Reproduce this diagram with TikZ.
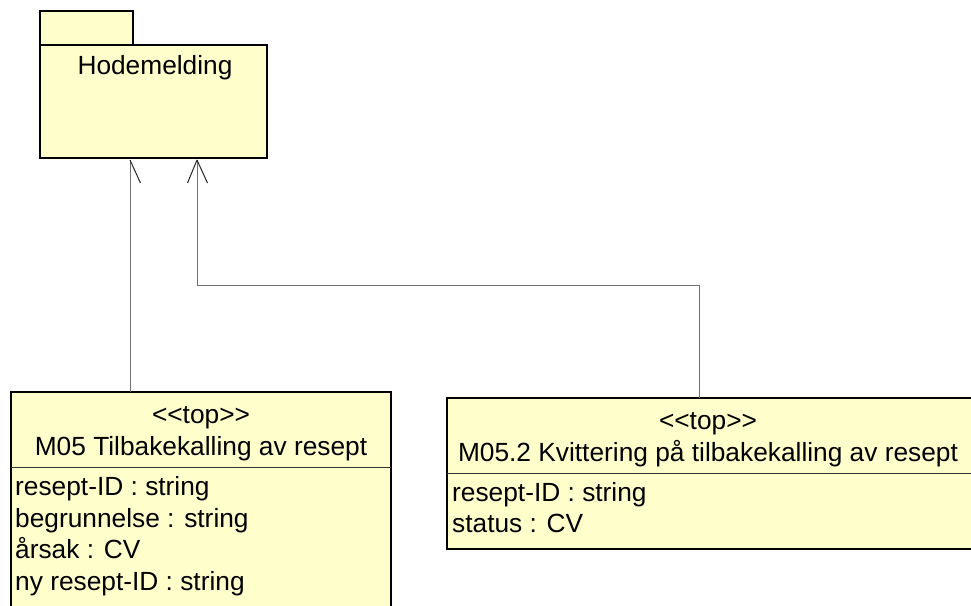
\documentclass[tikz,border=0pt]{standalone}
\usepackage{fontspec}
\setmainfont{Liberation Sans}[Ligatures=NoCommon]
\definecolor{umlfill}{HTML}{FFFFCC}
\definecolor{conn}{HTML}{707070}
\newcommand{\stereo}[1]{{<}{<}#1{>}{>}}
\begin{document}
\begin{tikzpicture}[x=1pt,y=-1pt,
  boxshape/.style={draw=black,line width=1.3pt,fill=umlfill,rectangle,inner sep=0pt,outer sep=0pt},
  sepline/.style={draw=black!80,line width=1pt},
  txt/.style={inner sep=0pt,anchor=base,font=\fontsize{26.3}{30}\selectfont},
  attr/.style={txt,anchor=base west},
  connline/.style={draw=conn,line width=1pt},
  tipline/.style={draw=black!85,line width=1pt}]
\useasboundingbox (0,0) rectangle (971,605);
\clip (0,0) rectangle (971,605);
% package
\node[boxshape,minimum width=93pt,minimum height=34pt] (pkgtab) at (86.5,28) {};
\node[boxshape,minimum width=227pt,minimum height=113pt] (pkg) at (153.5,101.5) {};
\node[txt] (pkgname) at (155,74) {Hodemelding};
% left class
\node[boxshape,minimum width=380pt,minimum height=228pt] (m05) at (201,506) {};
\draw[sepline] (m05.west |- 0,467) -- (m05.east |- 0,467);
\node[txt] (m05st) at (201,423) {\stereo{top}};
\node[txt] (m05name) at (201,455) {M05 Tilbakekalling av resept};
\node[attr] (a1) at (15,495) {resept-ID : string};
\node[attr] (a2) at (15,527) {begrunnelse : string};
\node[attr] (a3) at (15,558) {årsak : CV};
\node[attr] (a4) at (15,590) {ny resept-ID : string};
% right class
\node[boxshape,minimum width=526pt,minimum height=151pt] (m052) at (710,473.5) {};
\draw[sepline] (m052.west |- 0,473) -- (m052.east |- 0,473);
\node[txt] (m052st) at (708,429) {\stereo{top}};
\node[txt] (m052name) at (708,461) {M05.2 Kvittering på tilbakekalling av resept};
\node[attr] (b1) at (452,501) {resept-ID : string};
\node[attr] (b2) at (452,532) {status : CV};
% connectors
\coordinate (t1) at (pkg.south -| 130,0);
\coordinate (s1) at (m05.north -| 130,0);
\coordinate (t2) at (pkg.south -| 197,0);
\coordinate (s2) at (m052.north -| 699,0);
\draw[connline] (s1) -- ([yshift=-2pt]t1);
\draw[connline] (s2) -- (699,285) -| ([yshift=-2pt]t2);
\draw[tipline] ([yshift=-2pt]t1) -- ++(10.5,23);
\draw[tipline] ([yshift=-2pt]t2) -- ++(-9.5,23);
\draw[tipline] ([yshift=-2pt]t2) -- ++(10.5,23);
\end{tikzpicture}
\end{document}
